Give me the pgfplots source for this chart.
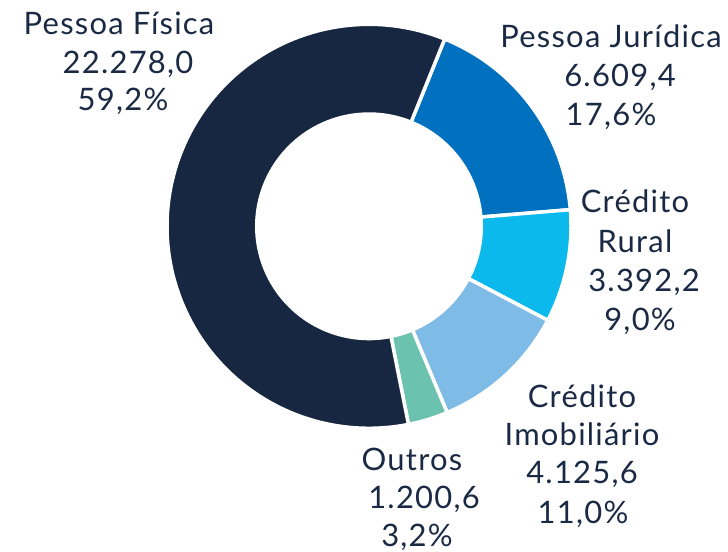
\documentclass[border=0pt]{standalone}
\usepackage{pgfplots}
\pgfplotsset{compat=1.18}
\usepackage{pgfplotstable}
\usepackage{fontspec}
\setmainfont{Lato}[LetterSpace=4]
\definecolor{cPF}{HTML}{172741}
\definecolor{cPJ}{HTML}{0070BF}
\definecolor{cRu}{HTML}{0BB9EC}
\definecolor{cIm}{HTML}{7EBBE6}
\definecolor{cOu}{HTML}{6BC2AE}
\definecolor{txt}{HTML}{1A2A44}

\pgfplotstableread{
label value
PF 22278.0
PJ 6609.4
Rural 3392.2
Imob 4125.6
Outros 1200.6
}\datatable

\pgfplotstablegetelem{0}{value}\of\datatable \let\vPF\pgfplotsretval
\pgfplotstablegetelem{1}{value}\of\datatable \let\vPJ\pgfplotsretval
\pgfplotstablegetelem{2}{value}\of\datatable \let\vRu\pgfplotsretval
\pgfplotstablegetelem{3}{value}\of\datatable \let\vIm\pgfplotsretval
\pgfplotstablegetelem{4}{value}\of\datatable \let\vOu\pgfplotsretval

\edef\tot{\fpeval{\vPF+\vPJ+\vRu+\vIm+\vOu}}
\def\aA{68.0}
\edef\aB{\fpeval{\aA-360*\vPJ/\tot}}
\edef\aC{\fpeval{\aB-360*\vRu/\tot}}
\edef\aD{\fpeval{\aC-360*\vIm/\tot}}
\edef\aE{\fpeval{\aD-360*\vOu/\tot}}
\edef\aF{\fpeval{\aE-360*\vPF/\tot}}

\def\cx{369}
\def\cy{324.7}
\def\R{202}
\def\r{114}

\tikzset{lbl/.style={anchor=base, text=txt, inner sep=0pt, font=\fontsize{17.6pt}{21pt}\selectfont}}
\pgfplotsset{wedge/.style={draw=white, line width=2pt, line join=round, samples=90, variable=\t}}

\begin{document}
\begin{tikzpicture}
\begin{axis}[scale only axis, width=14.56cm, height=11.02cm,
  xmin=0, xmax=728, ymin=0, ymax=551, hide axis, clip=false]
\addplot[wedge, fill=cPJ, domain=\aB:\aA] ({\cx+\R*cos(t)},{\cy+\R*sin(t)}) -- (axis cs:\cx,\cy) -- cycle;
\addplot[wedge, fill=cRu, domain=\aC:\aB] ({\cx+\R*cos(t)},{\cy+\R*sin(t)}) -- (axis cs:\cx,\cy) -- cycle;
\addplot[wedge, fill=cIm, domain=\aD:\aC] ({\cx+\R*cos(t)},{\cy+\R*sin(t)}) -- (axis cs:\cx,\cy) -- cycle;
\addplot[wedge, fill=cOu, domain=\aE:\aD] ({\cx+\R*cos(t)},{\cy+\R*sin(t)}) -- (axis cs:\cx,\cy) -- cycle;
\addplot[wedge, fill=cPF, domain=\aF:\aE, samples=200] ({\cx+\R*cos(t)},{\cy+\R*sin(t)}) -- (axis cs:\cx,\cy) -- cycle;
\addplot[fill=white, draw=none, domain=0:360, samples=180, variable=\t] ({\cx+\r*cos(t)},{\cy+\r*sin(t)}) -- cycle;

\node[lbl] at (axis cs:119,516) {Pessoa Física};
\node[lbl] at (axis cs:128,477) {22.278,0};
\node[lbl] at (axis cs:123,440) {59,2\%};
\node[lbl] at (axis cs:611,503) {Pessoa Jurídica};
\node[lbl] at (axis cs:620,464) {6.609,4};
\node[lbl] at (axis cs:611,425) {17,6\%};
\node[lbl] at (axis cs:635,338) {Crédito};
\node[lbl] at (axis cs:635,298.5) {Rural};
\node[lbl] at (axis cs:644,259.5) {3.392,2};
\node[lbl] at (axis cs:640,221) {9,0\%};
\node[lbl] at (axis cs:582,144) {Crédito};
\node[lbl] at (axis cs:582,106) {Imobiliário};
\node[lbl] at (axis cs:582,68) {4.125,6};
\node[lbl] at (axis cs:583,28) {11,0\%};
\node[lbl] at (axis cs:412,81) {Outros};
\node[lbl] at (axis cs:424,42.5) {1.200,6};
\node[lbl] at (axis cs:417,4.5) {3,2\%};
\end{axis}
\pgfresetboundingbox
\useasboundingbox (0,0) rectangle (14.56cm,11.02cm);
\end{tikzpicture}
\end{document}
